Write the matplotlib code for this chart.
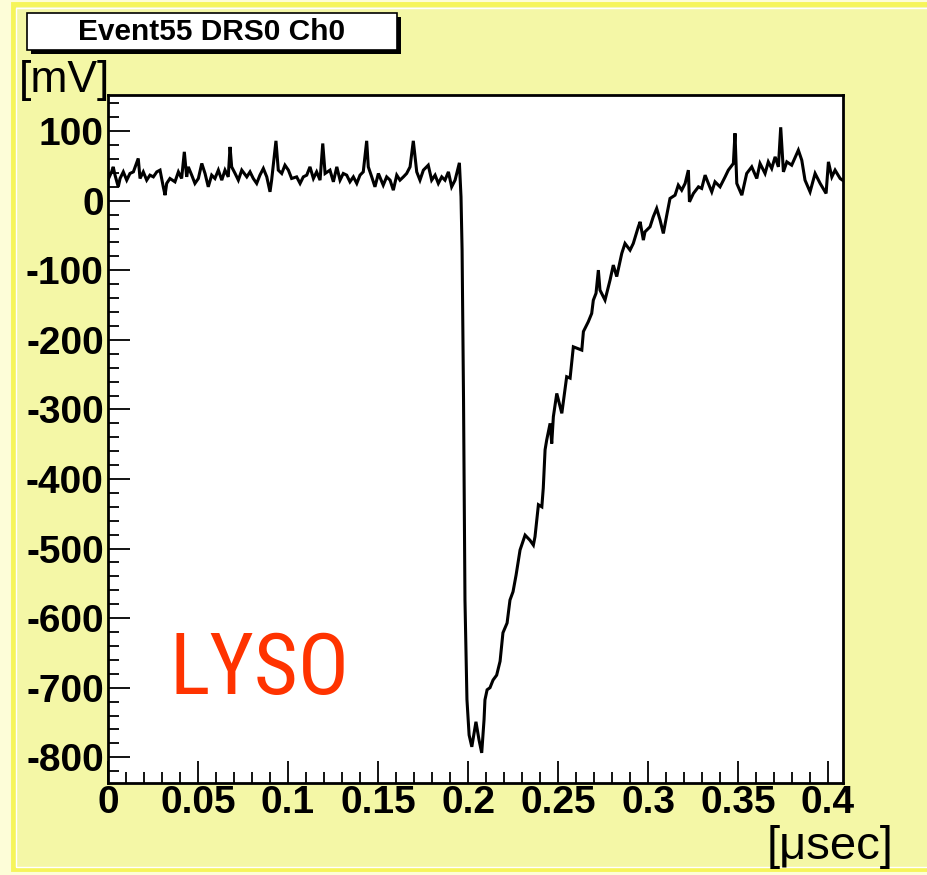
import matplotlib
matplotlib.use("Agg")
import matplotlib.pyplot as plt
from matplotlib.patches import Rectangle
from matplotlib.ticker import FixedLocator, MultipleLocator
from matplotlib import font_manager as fm

# ---- waveform samples (time in ns, amplitude in mV) ----
time_ns = [
    0.0, 2.0, 2.9, 3.9, 5.7, 6.7, 8.5, 10.4, 12.2, 14.1, 16.8, 17.8, 19.6, 21.5, 23.3,
    25.2, 27.1, 28.9, 30.7, 31.7, 32.6, 34.4, 37.2, 39.1, 40.9, 42.4, 43.7, 44.6, 46.5,
    48.3, 50.2, 52.1, 53.9, 55.7, 57.6, 59.4, 61.3, 63.2, 65.0, 66.8, 67.8, 68.7, 70.6,
    72.4, 74.3, 77.1, 78.9, 80.7, 82.6, 84.4, 86.3, 88.2, 90.0, 90.9, 93.3, 94.6, 96.5,
    98.3, 100.2, 102.0, 104.8, 106.7, 108.5, 110.4, 112.2, 114.1, 115.9, 117.8, 119.3,
    120.6, 123.3, 125.2, 127.1, 128.9, 130.7, 132.6, 134.4, 136.3, 138.2, 140.0, 141.8,
    143.7, 144.6, 146.5, 148.3, 150.2, 152.9, 154.8, 156.7, 158.5, 160.4, 162.2, 164.1,
    165.9, 167.8, 169.6, 171.5, 173.3, 175.2, 177.9, 179.8, 181.7, 183.5, 185.4, 187.2,
    189.1, 190.9, 192.8, 195.2, 196.1,
    196.7, 197.5, 198.3, 199.4, 200.6, 202.1, 204.4, 206.1, 207.6, 208.9, 209.4, 210.6,
    212.2, 213.9, 215.9, 217.8, 219.4, 221.7, 223.3, 225.0, 226.7, 228.9, 231.7, 234.4,
    236.3, 237.2, 239.1, 241.0, 241.8, 242.8, 243.7, 245.6, 246.5, 247.4, 249.3, 252.1,
    254.8, 256.7, 258.5, 263.2, 264.1, 266.8, 268.7, 269.6, 271.1, 272.4, 273.3, 276.1,
    278.9, 280.7, 282.6, 285.4, 287.2, 290.0, 291.8, 294.6, 295.6, 297.4, 298.3, 301.1,
    302.9, 304.8, 306.7, 308.5, 310.4, 312.2, 315.0, 316.8, 318.7, 320.6, 322.4, 323.0,
    325.2, 328.0, 329.8, 331.7, 333.5, 335.4, 337.2, 340.0, 342.8, 344.6, 347.4, 348.3,
    349.3, 352.1, 354.8, 357.6, 360.4, 362.2, 365.0, 366.8, 368.7, 370.6, 372.4, 373.7,
    375.2, 377.1, 379.8, 383.5, 385.4, 387.2, 390.0, 392.8, 395.6, 398.9, 400.2, 402.1,
    403.9, 406.7, 408.0,
]
amplitude_mv = [
    30.0, 41.5, 48.7, 36.8, 20.0, 32.0, 41.5, 29.6, 39.2, 41.5, 60.8, 32.0, 41.5, 29.6, 36.8,
    34.3, 41.5, 44.0, 20.0, 8.0, 24.9, 32.0, 27.2, 41.5, 32.0, 70.3, 34.3, 48.7, 36.8,
    24.9, 32.0, 53.6, 39.2, 20.0, 36.8, 32.0, 44.0, 29.6, 44.0, 34.3, 77.4, 48.7, 39.2,
    29.6, 44.0, 34.3, 41.5, 32.0, 24.9, 36.8, 46.4, 34.3, 12.8, 29.6, 86.1, 44.0, 39.2,
    51.1, 44.0, 32.0, 34.3, 24.9, 34.3, 36.8, 48.7, 32.0, 41.5, 29.6, 82.3,
    39.2, 44.0, 27.2, 48.7, 29.6, 39.2, 36.8, 27.2, 34.3, 24.9, 36.8, 41.5,
    86.1, 48.7, 34.3, 20.0, 39.2, 22.4, 34.3, 29.6, 15.2, 36.8, 29.6, 34.3,
    39.2, 48.7, 86.1, 41.5, 29.6, 44.0, 51.1, 29.6, 36.8, 24.9, 34.3, 29.6,
    41.5, 20.0, 29.6, 54.5, 5.6,
    -71.0, -286.0, -574.0, -717.0, -768.0, -785.0, -749.0, -775.0, -793.7, -746.0, -717.5, -703.0,
    -700.0, -689.0, -682.0, -662.0, -621.0, -607.0, -574.0, -562.0, -538.0, -502.0, -480.7, -488.0,
    -495.0, -483.0, -437.0, -440.0, -413.0, -358.0, -344.0, -320.0, -349.0, -310.5, -277.0, -305.6,
    -253.0, -255.0, -210.0, -214.7, -188.0, -174.0, -162.0, -143.0, -133.0, -99.7, -128.4, -142.8,
    -114.0, -92.5, -109.0, -75.7, -61.4, -71.0, -61.4, -37.5, -30.3, -56.6, -44.7, -37.5,
    -23.1, -11.1, -27.9, -47.0, -20.7, 3.3, 8.0, 22.4, 15.2, 24.9, 44.0, -1.6,
    10.5, 20.0, 17.7, 36.8, 24.9, 12.8, 27.2, 20.0, 34.3, 44.0, 53.6, 97.0,
    24.9, 8.0, 39.2, 48.7, 32.0, 53.6, 39.2, 55.9, 46.4, 63.1, 48.7, 105.6,
    41.5, 55.9, 51.1, 72.7, 58.3, 29.6, 12.8, 39.2, 24.9, 10.5, 55.9, 34.3,
    44.0, 32.0, 29.6,
]

title_text = "Event55 DRS0 Ch0"
x_unit = "[\u03bcsec]"
y_unit = "[mV]"
annotation = "LYSO"

x_tick_values = [0.0, 0.05, 0.1, 0.15, 0.2, 0.25, 0.3, 0.35, 0.4]
x_tick_labels = ["0", "0.05", "0.1", "0.15", "0.2", "0.25", "0.3", "0.35", "0.4"]
y_tick_values = [100, 0, -100, -200, -300, -400, -500, -600, -700, -800]
y_tick_labels = ["100", "0", "-100", "-200", "-300", "-400", "-500", "-600", "-700", "-800"]

W, H = 927, 875
DPI = 100

PANEL = "#f4f7a6"
OUTER = "#fdfdd8"
RIM = "#f6f55a"


def narrow_family():
    names = {f.name for f in fm.fontManager.ttflist}
    for cand in ["Liberation Sans Narrow", "Roboto Condensed", "Open Sans Condensed"]:
        if cand in names:
            return {"family": cand, "stretch": "normal"}
    if any("Condensed" in f.fname and "DejaVuSans" in f.fname for f in fm.fontManager.ttflist):
        return {"family": "DejaVu Sans", "stretch": "condensed"}
    return {"family": "Liberation Sans", "stretch": "normal"}


def px_box(x0, y0, x1, y1):
    """Convert a pixel box (top-left origin) to figure fractions."""
    return x0 / W, 1 - y1 / H, (x1 - x0) / W, (y1 - y0) / H


plt.rcParams["axes.unicode_minus"] = False
fig = plt.figure(figsize=(W / DPI, H / DPI), dpi=DPI, facecolor=OUTER)

# canvas panel with a bright rim
x, y, w, h = px_box(13, 4, 940, 869)
fig.patches.append(Rectangle((x, y), w, h, transform=fig.transFigure,
                             facecolor=PANEL, edgecolor=RIM, linewidth=3.5, zorder=-3))
x, y, w, h = px_box(15.5, 8, 940, 866.5)
fig.patches.append(Rectangle((x, y), w, h, transform=fig.transFigure,
                             facecolor="none", edgecolor="white", linewidth=1.0, zorder=-2))

# plotting frame
ax_l, ax_r, ax_t, ax_b = 108, 843, 95, 783
ax = fig.add_axes([ax_l / W, 1 - ax_b / H, (ax_r - ax_l) / W, (ax_b - ax_t) / H])
ax.set_zorder(1)
ax.set_facecolor("white")

t_us = [t / 1000.0 for t in time_ns]
ax.plot(t_us, amplitude_mv, color="black", linewidth=2.2, solid_joinstyle="miter")

ax.set_xlim(0, 0.4083)
ax.set_ylim(-837, 152)

ax.xaxis.set_major_locator(FixedLocator(x_tick_values))
ax.set_xticklabels(x_tick_labels)
ax.xaxis.set_minor_locator(MultipleLocator(0.01))
ax.yaxis.set_major_locator(FixedLocator(y_tick_values))
ax.set_yticklabels(y_tick_labels)
ax.yaxis.set_minor_locator(MultipleLocator(20))

tick_font = {"family": "Liberation Sans", "weight": "bold", "size": 28}
for lab in ax.get_xticklabels() + ax.get_yticklabels():
    lab.set_fontproperties(fm.FontProperties(**tick_font))

ax.tick_params(which="both", direction="in", top=False, right=False, width=1.3, color="black")
ax.tick_params(which="major", length=15.5)
ax.tick_params(which="minor", length=8)
ax.tick_params(axis="x", which="major", pad=1.5)
ax.tick_params(axis="y", which="major", pad=3)
for sp in ax.spines.values():
    sp.set_linewidth(2.0)
    sp.set_color("black")

# axis unit labels
fig.text(19 / W, 1 - 60 / H, y_unit, ha="left", va="top",
         fontsize=32, family="Liberation Sans", color="black")
fig.text(893 / W, 1 - 869 / H, x_unit, ha="right", va="bottom",
         fontsize=34, family="Liberation Sans", color="black")

# title box with drop shadow
x, y, w, h = px_box(31, 17, 401, 54)
fig.patches.append(Rectangle((x, y), w, h, transform=fig.transFigure,
                             facecolor="black", edgecolor="none", zorder=2))
x, y, w, h = px_box(27, 13, 397, 50)
fig.patches.append(Rectangle((x, y), w, h, transform=fig.transFigure,
                             facecolor="white", edgecolor="black", linewidth=1.2, zorder=3))
fig.text(212 / W, 1 - 31.5 / H, title_text, ha="center", va="center",
         fontsize=21.5, family="Liberation Sans", weight="bold", color="black", zorder=4)

# crystal label
nf = narrow_family()
ax.text(170 / W, 1 - 694 / H, annotation, transform=fig.transFigure,
        ha="left", va="baseline", color="#ff3300",
        fontproperties=fm.FontProperties(family=nf["family"], stretch=nf["stretch"], size=61))

fig.savefig("out.png", dpi=DPI, facecolor=fig.get_facecolor())
